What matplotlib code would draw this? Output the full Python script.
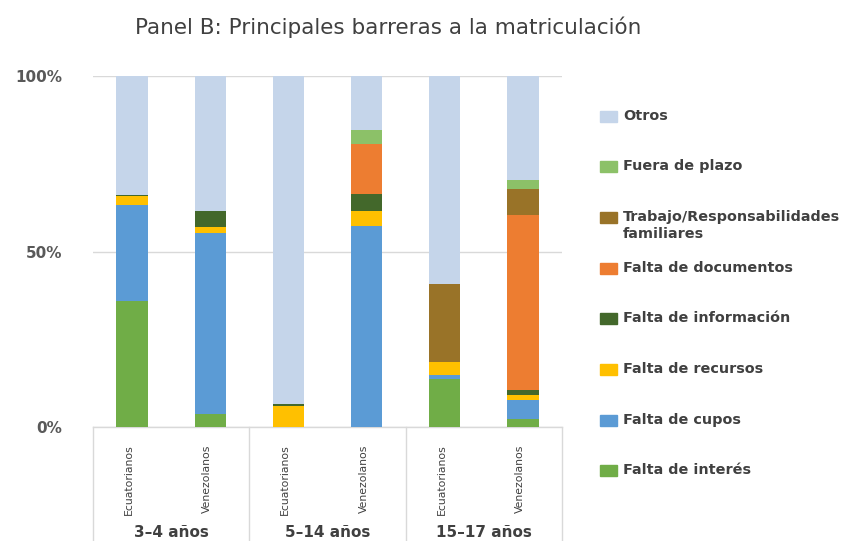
import matplotlib.pyplot as plt
from matplotlib.patches import Rectangle
from matplotlib.lines import Line2D

# bars, bottom to top in stacking order
bars = ["Ecuatorianos", "Venezolanos", "Ecuatorianos", "Venezolanos", "Ecuatorianos", "Venezolanos"]
groups = ["3\u20134 años", "5\u201314 años", "15\u201317 años"]

series = ["Falta de interés", "Falta de cupos", "Falta de recursos", "Falta de información",
          "Falta de documentos", "Trabajo/Responsabilidades\nfamiliares", "Fuera de plazo", "Otros"]
colors = ["#70AD47", "#5B9BD5", "#FFC000", "#43682B", "#ED7D31", "#997328", "#8CC168", "#C5D5EA"]

interes = [35.9, 3.6, 0.0, 0.0, 13.8, 2.4]
cupos = [27.3, 51.6, 0.0, 57.3, 1.1, 5.3]
recursos = [2.6, 1.8, 6.1, 4.2, 3.6, 1.3]
informacion = [0.3, 4.5, 0.5, 5.0, 0.0, 1.5]
documentos = [0.0, 0.0, 0.0, 14.2, 0.0, 49.8]
trabajo = [0.0, 0.0, 0.0, 0.0, 22.3, 7.5]
fuera_plazo = [0.0, 0.0, 0.0, 3.8, 0.0, 2.5]
otros = [33.9, 38.5, 93.4, 15.5, 59.2, 29.7]

values = [interes, cupos, recursos, informacion, documentos, trabajo, fuera_plazo, otros]

plt.rcParams['font.family'] = ['DejaVu Sans']
txt_color = "#404040"

W, H = 856, 541
fig = plt.figure(figsize=(W / 100, H / 100), dpi=100)
ax = fig.add_axes([93 / W, (H - 427) / H, (562 - 93) / W, (427 - 76) / H])

x = list(range(len(bars)))
bottom = [0.0] * len(bars)
for vals, col in zip(values, colors):
    ax.bar(x, vals, bottom=bottom, width=0.4, color=col, zorder=3)
    bottom = [b + v for b, v in zip(bottom, vals)]

ax.set_xlim(-0.5, len(bars) - 0.5)
ax.set_ylim(0, 100)
ax.set_yticks([0, 50, 100])
ax.set_yticklabels(["0%", "50%", "100%"], fontsize=11, fontweight="bold", color="#595959")
ax.grid(axis="y", color="#D9D9D9", linewidth=1, zorder=0)
ax.tick_params(axis="y", length=0, pad=22)
ax.set_xticks([])
for s in ax.spines.values():
    s.set_visible(False)

# category box under the bars
ybot = -(H - 427) / (427 - 76) * 100
box_kw = dict(color="#D9D9D9", linewidth=1, clip_on=False)
ax.add_line(Line2D([-0.5, 5.5], [0, 0], **box_kw))
for xs in [-0.5, 1.5, 3.5, 5.5]:
    ax.add_line(Line2D([xs, xs], [0, ybot], **box_kw))

for i, name in enumerate(bars):
    ax.text(i - 0.04, -5.0, name, rotation=90, ha="center", va="top", fontsize=7.8,
            color=txt_color, clip_on=False)
for g, name in enumerate(groups):
    ax.text(2 * g + 0.5, -30.0, name, ha="center", va="center", fontsize=11,
            fontweight="bold", color=txt_color)

fig.text(388 / W, 1 - 27 / H, "Panel B: Principales barreras a la matriculación", ha="center",
         va="center", fontsize=15.5, color=txt_color)

# legend, top to bottom
for k, (name, col) in enumerate(zip(series[::-1], colors[::-1])):
    yc = 116 + 50.7 * k
    fig.patches.append(Rectangle((600 / W, 1 - (yc + 5.5) / H), 17 / W, 11 / H,
                                 color=col, transform=fig.transFigure))
    fig.text(623 / W, 1 - (yc - 7.5) / H, name, ha="left", va="top", fontsize=10.4,
             fontweight="bold", color=txt_color, linespacing=1.3)

fig.savefig("out.png", dpi=100)
